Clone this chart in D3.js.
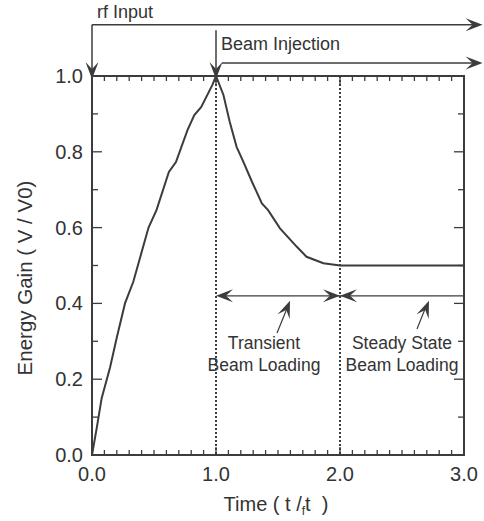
<!DOCTYPE html>
<html>
<head>
<meta charset="utf-8">
<script src="https://cdn.jsdelivr.net/npm/d3@7"></script>
<style>
  body { margin: 0; background: #fff; }
  text { font-family: 'Liberation Sans', Arial, Helvetica, sans-serif; fill: #333; }
</style>
</head>
<body>
<div id="app"></div>
<script>
'use strict'
// energy gain curve
const timeValues = [0, 0.038, 0.078, 0.145, 0.2, 0.266, 0.333, 0.387, 0.456, 0.52, 0.62, 0.677, 0.77, 0.825, 0.88, 0.97, 1.0,
  1.06, 1.11, 1.166, 1.22, 1.29, 1.37, 1.42, 1.516, 1.65, 1.73, 1.866, 2.0, 3.0]
const gainValues = [0, 0.071, 0.15, 0.23, 0.31, 0.40, 0.457, 0.52, 0.60, 0.646, 0.747, 0.773, 0.857, 0.897, 0.918, 0.976, 1.0,
  0.95, 0.88, 0.813, 0.774, 0.721, 0.664, 0.646, 0.598, 0.55, 0.523, 0.506, 0.5, 0.5]

const xTickLabels = ['0.0', '1.0', '2.0', '3.0']
const yTickLabels = ['0.0', '0.2', '0.4', '0.6', '0.8', '1.0']
const markerTimes = [1.0, 2.0]   // beam injection, end of transient
const loadingLevel = 0.42

const width = 484
const height = 521
const ink = '#3c3c3c'

const svg = d3.select('#app').append('svg')
  .attr('width', width)
  .attr('height', height)

const x = d3.scaleLinear().domain([0, 3]).range([92, 464])
const y = d3.scaleLinear().domain([0, 1]).range([455, 76])

// arrowhead, tip at origin pointing +x
const headPath = 'M0,0 L-17,-6.5 L-10,0 L-17,6.5 Z'
const arrowHead = (px, py, angle) => {
  svg.append('path')
    .attr('d', headPath)
    .attr('fill', ink)
    .attr('transform', `translate(${px},${py}) rotate(${angle})`)
}
const line = (x1, y1, x2, y2, w) => svg.append('line')
  .attr('x1', x1).attr('y1', y1).attr('x2', x2).attr('y2', y2)
  .attr('stroke', ink).attr('stroke-width', w || 1.5)

/*
* ticks: all pointing inward, minor every 0.1, major on the labels
*/
const minorX = d3.range(0, 3.001, 0.1)
const minorY = d3.range(0, 1.001, 0.1)

const tickGroup = svg.append('g').attr('stroke', ink).attr('stroke-width', 1.3)
minorX.forEach(t => {
  const big = Math.abs(t - Math.round(t)) < 1e-6
  const len = big ? 8 : 5
  tickGroup.append('line').attr('x1', x(t)).attr('x2', x(t)).attr('y1', y(0)).attr('y2', y(0) - len)
  tickGroup.append('line').attr('x1', x(t)).attr('x2', x(t)).attr('y1', y(1)).attr('y2', y(1) + len)
})
minorY.forEach((v, i) => {
  const len = i % 2 === 0 ? 10 : 6
  tickGroup.append('line').attr('x1', x(0)).attr('x2', x(0) + len).attr('y1', y(v)).attr('y2', y(v))
  tickGroup.append('line').attr('x1', x(3)).attr('x2', x(3) - len).attr('y1', y(v)).attr('y2', y(v))
})

// dotted markers
markerTimes.forEach(t => {
  svg.append('line')
    .attr('x1', x(t)).attr('x2', x(t))
    .attr('y1', y(1)).attr('y2', y(0))
    .attr('stroke', ink)
    .attr('stroke-width', 2)
    .attr('stroke-dasharray', '2,2')
})

// frame
svg.append('rect')
  .attr('x', x(0)).attr('y', y(1))
  .attr('width', x(3) - x(0)).attr('height', y(0) - y(1))
  .attr('fill', 'none').attr('stroke', ink).attr('stroke-width', 2)

// curve
const pts = timeValues.map((t, i) => [t, gainValues[i]])
svg.append('path')
  .datum(pts)
  .attr('fill', 'none')
  .attr('stroke', ink)
  .attr('stroke-width', 2)
  .attr('d', d3.line().x(d => x(d[0])).y(d => y(d[1])))

// tick labels
svg.selectAll('.xlab')
  .data(xTickLabels)
  .enter().append('text')
  .attr('x', d => x(+d))
  .attr('y', 481)
  .attr('text-anchor', 'middle')
  .attr('font-size', 20)
  .text(d => d)

svg.selectAll('.ylab')
  .data(yTickLabels)
  .enter().append('text')
  .attr('x', 83)
  .attr('y', d => y(+d))
  .attr('dy', 7)
  .attr('text-anchor', 'end')
  .attr('font-size', 20)
  .text(d => d)

// axis titles
const xt = svg.append('text')
  .attr('x', 276).attr('y', 511)
  .attr('text-anchor', 'middle')
  .attr('font-size', 20)
xt.append('tspan').text('Time ( t /')
xt.append('tspan').attr('font-size', 12).attr('dy', 4).text('f')
xt.append('tspan').attr('dy', -4).text('t\u00a0\u00a0)')

svg.append('text')
  .attr('transform', `translate(32,${278}) rotate(-90)`)
  .attr('text-anchor', 'middle')
  .attr('font-size', 20.5)
  .text('Energy Gain ( V / V0)')

/*
* rf input and beam injection arrows above the plot
*/
const rfY = y(1.135)
line(x(0), rfY, x(3.15) - 8, rfY)
arrowHead(x(3.15), rfY, 0)
line(x(0), rfY, x(0), y(1) - 6)
arrowHead(x(0), y(1) + 3, 90)
svg.append('text').attr('x', 97).attr('y', 18).attr('font-size', 18).text('rf Input')

const beamY = y(1.034)
line(x(1), y(1.121), x(1), y(1) - 6)
arrowHead(x(1), y(1) + 3, 90)
line(x(1) + 6, beamY, x(3.15) - 8, beamY)
arrowHead(x(3.15), beamY, 0)
svg.append('text').attr('x', 221).attr('y', 50).attr('font-size', 18).text('Beam Injection')

/*
* beam loading spans
*/
const ly = y(loadingLevel)
line(x(1) + 6, ly, x(3), ly, 1.2)
arrowHead(x(1), ly, 180)
arrowHead(x(2), ly, 0)
arrowHead(x(2), ly, 180)

// pointers from labels to spans
line(277, 333, 288, 306, 1.2)
arrowHead(290, ly + 5, -68)
line(417, 329, 427, 304, 1.2)
arrowHead(429, ly + 5, -68)

const labels = [
  { cx: 264, lines: ['Transient', 'Beam Loading'] },
  { cx: 402, lines: ['Steady State', 'Beam Loading'] }
]
labels.forEach(l => {
  l.lines.forEach((s, i) => {
    svg.append('text')
      .attr('x', l.cx).attr('y', 349 + i * 22)
      .attr('text-anchor', 'middle')
      .attr('font-size', 17.5)
      .text(s)
  })
})
</script>
</body>
</html>
